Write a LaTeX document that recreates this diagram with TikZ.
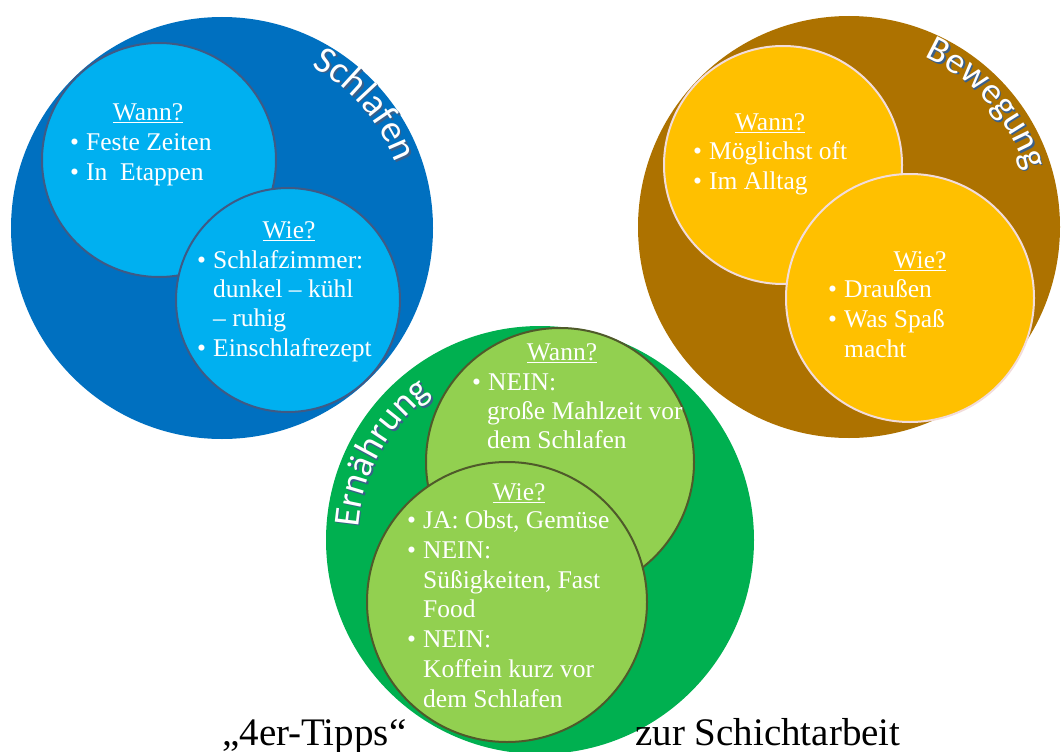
\documentclass[tikz,border=0pt]{standalone}
\usepackage{fontspec}
\setmainfont{Liberation Serif}
\newfontfamily\titlefont{Carlito}
\usepackage{tikz}
\usetikzlibrary{calc}
\usetikzlibrary{decorations.text}

\definecolor{sleepdark}{HTML}{0070C0}
\definecolor{sleeplight}{HTML}{00B0F0}
\definecolor{sleepline}{HTML}{3F5A85}
\definecolor{movedark}{HTML}{AD7200}
\definecolor{movelight}{HTML}{FFC000}
\definecolor{moveline}{HTML}{F2DCDB}
\definecolor{fooddark}{HTML}{00B050}
\definecolor{foodlight}{HTML}{92D050}
\definecolor{foodline}{HTML}{4F5A2A}
\definecolor{glow}{HTML}{3A5F8A}

\newcommand{\bul}{\makebox[16pt][l]{\textbullet}}

\tikzset{
	item/.style={anchor=base west, inner sep=0pt, text=white, font=\fontsize{25.5}{30}\selectfont},
	head/.style={anchor=base, inner sep=0pt, text=white, font=\fontsize{25.5}{30}\selectfont},
	bigtext/.style={anchor=base west, inner sep=0pt, font=\fontsize{39}{46}\selectfont},
}

\begin{document}
\begin{tikzpicture}[x=1pt,y=-1pt]
	\useasboundingbox (0,0) rectangle (1063,752);
	
	\coordinate (sleep) at (222,228);
	\coordinate (move) at (849,227);
	\coordinate (food) at (540,540);
	
	% Draw Schlafen circle
	\fill[sleepdark] (sleep) circle[radius=211];
	\filldraw[fill=sleeplight,draw=sleepline,line width=2pt] (159,160) circle[radius=117];
	\filldraw[fill=sleeplight,draw=sleepline,line width=2pt] (288,300) circle[radius=112];
	\path[decorate, decoration={text along path, text align={fit to path}, text={|\titlefont\fontsize{38}{38}\selectfont\color{glow}|Schlafen}}]
		($(sleep)+(1.5,1.5)+(-61:185)$) arc[start angle=-61, end angle=-21, radius=185];
	\path[decorate, decoration={text along path, text align={fit to path}, text={|\titlefont\fontsize{38}{38}\selectfont\color{white}|Schlafen}}]
		($(sleep)+(-61:185)$) arc[start angle=-61, end angle=-21, radius=185];
	
	\node[head] (sleepwann) at (148,120) {\underline{Wann?}};
	\node[item] (sleepw1) at (70,150) {\bul Feste Zeiten};
	\node[item] (sleepw2) at (70,180) {\bul In\ \ Etappen};
	
	\node[head] (sleepwie) at (289,238) {\underline{Wie?}};
	\node[item] (sleepv1) at (197,268) {\bul Schlafzimmer:};
	\node[item] (sleepv2) at (213,297) {dunkel -- kühl};
	\node[item] (sleepv3) at (213,326) {-- ruhig};
	\node[item] (sleepv4) at (197,356) {\bul Einschlafrezept};
	
	% Draw Bewegung circle
	\fill[movedark] (move) circle[radius=211];
	\filldraw[fill=movelight,draw=moveline,line width=2pt] (783,165) circle[radius=119];
	\filldraw[fill=movelight,draw=moveline,line width=2pt] (910,298) circle[radius=124];
	\path[decorate, decoration={text along path, text align={fit to path}, text={|\titlefont\fontsize{37}{37}\selectfont\color{glow}|Bewegung}}]
		($(move)+(1.5,1.5)+(-66:186)$) arc[start angle=-66, end angle=-18, radius=186];
	\path[decorate, decoration={text along path, text align={fit to path}, text={|\titlefont\fontsize{37}{37}\selectfont\color{white}|Bewegung}}]
		($(move)+(-66:186)$) arc[start angle=-66, end angle=-18, radius=186];
	
	\node[head] (movewann) at (770,130) {\underline{Wann?}};
	\node[item] (movew1) at (693,159) {\bul Möglichst oft};
	\node[item] (movew2) at (693,189) {\bul Im Alltag};
	
	\node[head] (movewie) at (920,268) {\underline{Wie?}};
	\node[item] (movev1) at (828,297) {\bul Draußen};
	\node[item] (movev2) at (828,327) {\bul Was Spaß};
	\node[item] (movev3) at (844,357) {macht};
	
	% Draw Ernaehrung circle
	\fill[fooddark] (food) circle[radius=214];
	\filldraw[fill=foodlight,draw=foodline,line width=2pt] (560,462) circle[radius=134];
	\filldraw[fill=foodlight,draw=foodline,line width=2pt] (507,602) circle[radius=140];
	\path[decorate, decoration={text along path, text align={fit to path}, text={|\titlefont\fontsize{37}{37}\selectfont\color{glow}|Ernährung}}]
		($(food)+(1.5,1.5)+(-176:182)$) arc[start angle=-176, end angle=-127, radius=182];
	\path[decorate, decoration={text along path, text align={fit to path}, text={|\titlefont\fontsize{37}{37}\selectfont\color{white}|Ernährung}}]
		($(food)+(-176:182)$) arc[start angle=-176, end angle=-127, radius=182];
	
	\node[head] (foodwann) at (562,360) {\underline{Wann?}};
	\node[item] (foodw1) at (472,390) {\bul NEIN:};
	\node[item] (foodw2) at (487,419) {große Mahlzeit vor};
	\node[item] (foodw3) at (487,448) {dem Schlafen};
	
	\node[head] (foodwie) at (519,500) {\underline{Wie?}};
	\node[item] (foodv1) at (407,528) {\bul JA: Obst, Gemüse};
	\node[item] (foodv2) at (407,558) {\bul NEIN:};
	\node[item] (foodv3) at (423,588) {Süßigkeiten, Fast};
	\node[item] (foodv4) at (423,617) {Food};
	\node[item] (foodv5) at (407,647) {\bul NEIN:};
	\node[item] (foodv6) at (423,677) {Koffein kurz vor};
	\node[item] (foodv7) at (423,707) {dem Schlafen};
	
	% Draw caption
	\node[bigtext] (tipps) at (222,745) {„4er-Tipps“};
	\node[bigtext] (shift) at (635,745) {zur Schichtarbeit};
	
\end{tikzpicture}
\end{document}
